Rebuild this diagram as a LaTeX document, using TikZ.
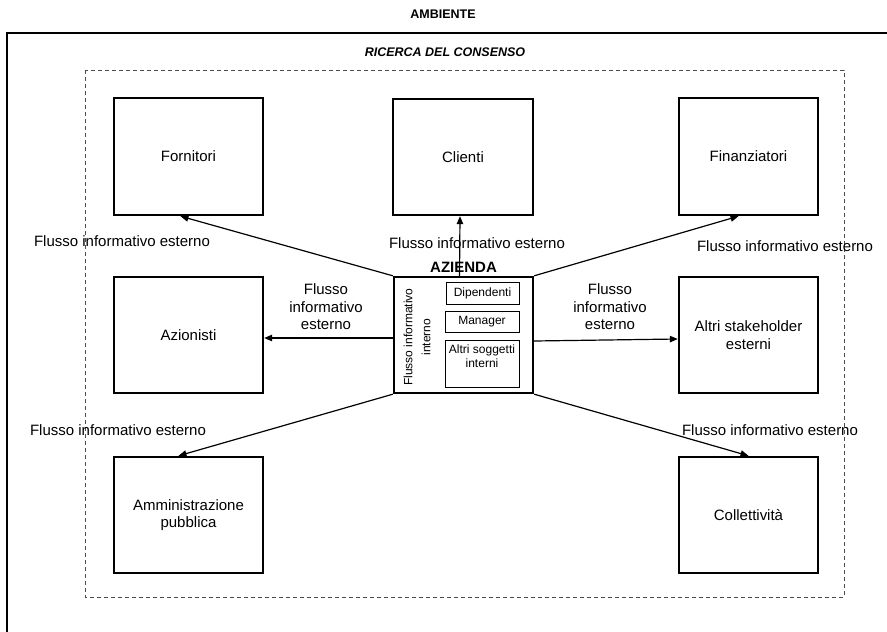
\documentclass[tikz,border=0pt]{standalone}
\usepackage{fontspec}
\setmainfont{Liberation Sans}
\usetikzlibrary{arrows.meta,calc}
\begin{document}
\begin{tikzpicture}[x=1pt,y=-1pt,
  party/.style={draw,line width=2.4pt,minimum width=#1,minimum height=116pt,
    inner sep=0pt,align=center,font=\fontsize{15}{17.5}\selectfont},
  unit/.style={draw,line width=0.9pt,inner sep=0pt,align=center,
    font=\fontsize{12}{14}\selectfont},
  flow/.style={-{Triangle[length=8pt,width=6.5pt]},line width=1.2pt},
  lbl/.style={inner sep=0pt,align=center,font=\fontsize{15}{17.5}\selectfont},
  heading/.style={inner sep=0pt,font=\fontsize{12.5}{14}\selectfont\bfseries}]
\useasboundingbox (0,0) rectangle (887,632);
\clip (0,0) rectangle (887,632);

% environment frame and consensus area
\node[heading] (ambiente) at (443,14) {AMBIENTE};
\draw[line width=2.4pt] (7,33) rectangle (905,660);
\node[heading,font=\fontsize{12.5}{14}\selectfont\bfseries\itshape] (consenso) at (445,52) {RICERCA DEL CONSENSO};
\draw[line width=0.9pt,gray!60!black,dash pattern=on 4pt off 3pt] (85,70) rectangle (844,597);

% stakeholders
\node[party=149pt,minimum height=117pt] (forn) at (188.5,156.5) {Fornitori};
\node[party=140pt] (cli) at (463,157) {Clienti};
\node[party=139pt,minimum height=117pt] (fin) at (748.5,156.5) {Finanziatori};
\node[party=149pt] (azi) at (188.5,335) {Azionisti};
\node[party=139pt] (altri) at (748.5,335) {Altri stakeholder\\esterni};
\node[party=149pt] (amm) at (188.5,515) {Amministrazione\\pubblica};
\node[party=139pt] (coll) at (748.5,515) {Collettività};

% the company
\node[party=139pt] (az) at (463.5,335) {};
\node[lbl,font=\fontsize{15}{17.5}\selectfont\bfseries] (aztitle) at (463.5,267) {AZIENDA};
\node[unit,minimum width=73pt,minimum height=22pt] (dip) at (482.5,293) {Dipendenti};
\node[unit,minimum width=74pt,minimum height=21pt] (man) at (482,321.5) {Manager};
\node[unit,minimum width=74pt,minimum height=47pt] (sogg) at (482,363.5) {};
\node[inner sep=0pt,align=center,font=\fontsize{12}{14}\selectfont] (soggtxt) at (482,356) {Altri soggetti\\interni};
\node[rotate=90,inner sep=0pt,align=center,font=\fontsize{12}{18}\selectfont] (interno) at (417,337) {Flusso informativo\\interno};

% external information flows
\draw[flow] (az.north west) -- ($(forn.south)+(-8,0)$);
\draw[flow] ($(az.north)+(-4,0)$) -- ($(cli.south)+(-3,0)$);
\draw[flow] (az.north east) -- ($(fin.south)+(-10,0)$);
\draw[flow] ($(az.west)+(0,3)$) -- ($(azi.east)+(0,3)$);
\draw[flow] ($(az.east)+(0,6)$) -- ($(altri.west)+(0,4)$);
\draw[flow] (az.south west) -- ($(amm.north)+(-10,0)$);
\draw[flow] (az.south east) -- (coll.north);

\node[lbl] (f1) at (122,241) {Flusso informativo esterno};
\node[lbl] (f2) at (477,243) {Flusso informativo esterno};
\node[lbl] (f3) at (785,246) {Flusso informativo esterno};
\node[lbl] (f4) at (326,307) {Flusso\\informativo\\esterno};
\node[lbl] (f5) at (610,307) {Flusso\\informativo\\esterno};
\node[lbl] (f6) at (118,430) {Flusso informativo esterno};
\node[lbl] (f7) at (770,430) {Flusso informativo esterno};
\end{tikzpicture}
\end{document}
